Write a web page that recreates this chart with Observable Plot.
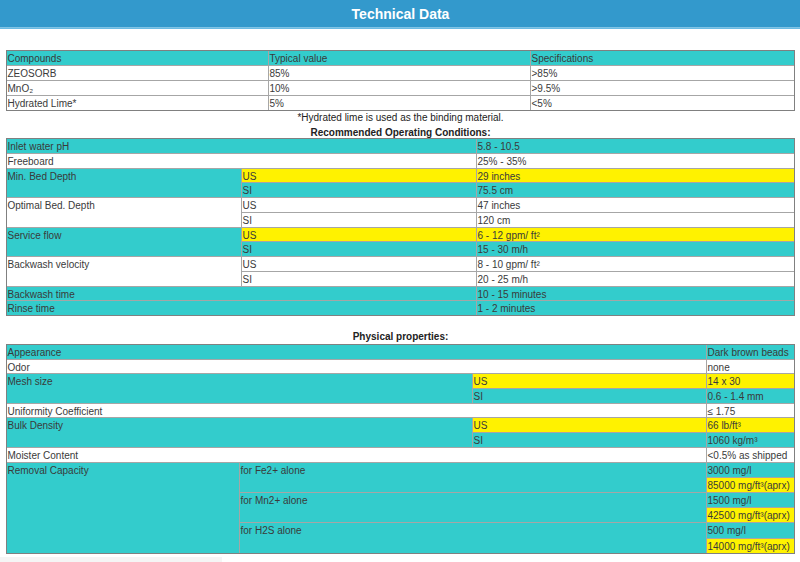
<!DOCTYPE html>
<html><head><meta charset="utf-8">
<script src="https://cdn.jsdelivr.net/npm/d3@7"></script>
<script src="https://cdn.jsdelivr.net/npm/@observablehq/plot@0.6"></script>
<style>body{margin:0;background:#fff;} #chart svg{display:block}</style>
</head><body><div id="chart"></div>
<script>
// ---------- DATA ----------
const pageTitle = "Technical Data";

const compoundHeaders = ["Compounds", "Typical value", "Specifications"];
const compounds = ["ZEOSORB", "MnO₂", "Hydrated Lime*"];
const typicalValues = ["85%", "10%", "5%"];
const specifications = [">85%", ">9.5%", "<5%"];
const footnote = "*Hydrated lime is used as the binding material.";

const operatingTitle = "Recommended Operating Conditions:";
const operatingParams = ["Inlet water pH", "Freeboard", "Min. Bed Depth", "Optimal Bed. Depth",
  "Service flow", "Backwash velocity", "Backwash time", "Rinse time"];
const operatingUnits = [[], [], ["US", "SI"], ["US", "SI"], ["US", "SI"], ["US", "SI"], [], []];
const operatingValues = [["5.8 - 10.5"], ["25% - 35%"], ["29 inches", "75.5 cm"], ["47 inches", "120 cm"],
  ["6 - 12 gpm/ ft²", "15 - 30 m/h"], ["8 - 10 gpm/ ft²", "20 - 25 m/h"], ["10 - 15 minutes"], ["1 - 2 minutes"]];

const physicalTitle = "Physical properties:";
const physicalProps = ["Appearance", "Odor", "Mesh size", "Uniformity Coefficient", "Bulk Density", "Moister Content"];
const physicalUnits = [[], [], ["US", "SI"], [], ["US", "SI"], []];
const physicalValues = [["Dark brown beads"], ["none"], ["14 x 30", "0.6 - 1.4 mm"], ["≤ 1.75"],
  ["66 lb/ft³", "1060 kg/m³"], ["<0.5% as shipped"]];
const removalLabel = "Removal Capacity";
const removalTargets = ["for Fe2+ alone", "for Mn2+ alone", "for H2S alone"];
const removalPerLiter = ["3000 mg/l", "1500 mg/l", "500 mg/l"];
const removalPerCubicFoot = ["85000 mg/ft³(aprx)", "42500 mg/ft³(aprx)", "14000 mg/ft³(aprx)"];

// ---------- STYLE / LAYOUT ----------
const TEAL = "#33cccc", YELLOW = "#fff200", WHITE = "#ffffff", BLUE = "#3399cc";
const tealOperating = new Set([0, 2, 4, 6, 7]);
const tealPhysical = new Set([0, 2, 4]);
const snap = v => Math.round(v) + 0.5;

const cells = [];
const outlines = [];
function cell(x1, x2, y1, y2, fill, text) { cells.push({x1, x2, y1, y2, fill, text}); }

// Table 1
{
  const cols = [6, 268, 530, 794].map(snap);
  const top = 50, h = 14.9;
  const y = r => snap(top + r * h);
  compoundHeaders.forEach((t, j) => cell(cols[j], cols[j + 1], y(0), y(1), TEAL, t));
  compounds.forEach((c, i) => {
    const row = [c, typicalValues[i], specifications[i]];
    row.forEach((t, j) => cell(cols[j], cols[j + 1], y(i + 1), y(i + 2), WHITE, t));
  });
  outlines.push({x1: cols[0], x2: cols[3], y1: y(0), y2: y(4)});
}

// Table 2
{
  const cols = [6, 241, 476, 794].map(snap);
  const top = 138, h = 14.75;
  const y = r => snap(top + r * h);
  let r = 0;
  operatingParams.forEach((p, i) => {
    const units = operatingUnits[i];
    const fill = tealOperating.has(i) ? TEAL : WHITE;
    if (units.length === 0) {
      cell(cols[0], cols[2], y(r), y(r + 1), fill, p);
      cell(cols[2], cols[3], y(r), y(r + 1), fill, operatingValues[i][0]);
      r += 1;
    } else {
      cell(cols[0], cols[1], y(r), y(r + units.length), fill, p);
      units.forEach((u, j) => {
        const f = (tealOperating.has(i) && j === 0) ? YELLOW : fill;
        cell(cols[1], cols[2], y(r + j), y(r + j + 1), f, u);
        cell(cols[2], cols[3], y(r + j), y(r + j + 1), f, operatingValues[i][j]);
      });
      r += units.length;
    }
  });
  outlines.push({x1: cols[0], x2: cols[3], y1: y(0), y2: y(r)});
}

// Table 3
{
  const cols = [6, 239, 472, 706, 794].map(snap);
  const top = 344;
  const y = r => { let s = top; for (let k = 0; k < r; k++) s += (k < 8 ? 14.7 : 15.2); return snap(s); };
  let r = 0;
  physicalProps.forEach((p, i) => {
    const units = physicalUnits[i];
    const fill = tealPhysical.has(i) ? TEAL : WHITE;
    if (units.length === 0) {
      cell(cols[0], cols[3], y(r), y(r + 1), fill, p);
      cell(cols[3], cols[4], y(r), y(r + 1), fill, physicalValues[i][0]);
      r += 1;
    } else {
      cell(cols[0], cols[2], y(r), y(r + units.length), fill, p);
      units.forEach((u, j) => {
        const f = j === 0 ? YELLOW : fill;
        cell(cols[2], cols[3], y(r + j), y(r + j + 1), f, u);
        cell(cols[3], cols[4], y(r + j), y(r + j + 1), f, physicalValues[i][j]);
      });
      r += units.length;
    }
  });
  cell(cols[0], cols[1], y(r), y(r + 2 * removalTargets.length), TEAL, removalLabel);
  removalTargets.forEach((t, k) => {
    cell(cols[1], cols[3], y(r + 2 * k), y(r + 2 * k + 2), TEAL, t);
    cell(cols[3], cols[4], y(r + 2 * k), y(r + 2 * k + 1), TEAL, removalPerLiter[k]);
    cell(cols[3], cols[4], y(r + 2 * k + 1), y(r + 2 * k + 2), YELLOW, removalPerCubicFoot[k]);
  });
  r += 2 * removalTargets.length;
  outlines.push({x1: cols[0], x2: cols[4], y1: y(0), y2: y(r)});
}

const plainHeadings = [{text: footnote, y: 120.5}];
const boldHeadings = [{text: operatingTitle, y: 135.3}, {text: physicalTitle, y: 339.8}];

const chart = Plot.plot({
  width: 800, height: 562, margin: 0,
  x: {domain: [0, 800], range: [0, 800], axis: null},
  y: {domain: [0, 562], range: [0, 562], axis: null},
  color: {type: "identity"},
  style: {fontFamily: "'Liberation Sans', Arial, sans-serif", background: "#fff", overflow: "visible"},
  marks: [
    // header bar
    Plot.rect([{x1: 0, x2: 800, y1: 0, y2: 27.5}], {x1: "x1", x2: "x2", y1: "y1", y2: "y2", fill: BLUE}),
    Plot.rect([{x1: 0, x2: 800, y1: 27.5, y2: 29}], {x1: "x1", x2: "x2", y1: "y1", y2: "y2", fill: "#6bbbe3"}),
    Plot.text([pageTitle], {x: () => 400, y: () => 18.5, text: d => d, textAnchor: "middle", lineAnchor: "bottom",
      fontSize: 14, fontWeight: "bold", fill: "#ffffff"}),
    // faint strip at bottom
    Plot.rect([{x1: 0, x2: 222, y1: 557, y2: 562}], {x1: "x1", x2: "x2", y1: "y1", y2: "y2", fill: "#f5f5f5"}),
    // cells
    Plot.rect(cells, {x1: "x1", x2: "x2", y1: "y1", y2: "y2", fill: "fill", stroke: "#a6a6a6", strokeWidth: 1}),
    Plot.rect(outlines, {x1: "x1", x2: "x2", y1: "y1", y2: "y2", fill: "none", stroke: "#808080", strokeWidth: 1}),
    Plot.text(cells, {x: d => d.x1 + 0.5, y: d => d.y1 + 11, text: "text", textAnchor: "start", lineAnchor: "bottom",
      fontSize: 10, fill: "#3a3a3a"}),
    Plot.text(plainHeadings, {x: () => 400, y: "y", text: "text", textAnchor: "middle", lineAnchor: "bottom",
      fontSize: 10, fill: "#222222"}),
    Plot.text(boldHeadings, {x: () => 400, y: "y", text: "text", textAnchor: "middle", lineAnchor: "bottom",
      fontSize: 10, fontWeight: "bold", fill: "#222222"})
  ]
});
document.getElementById("chart").appendChild(chart);
</script>
</body></html>
